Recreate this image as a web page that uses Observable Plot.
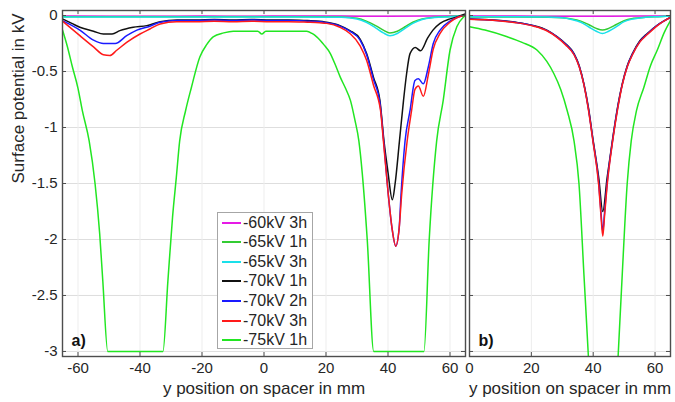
<!DOCTYPE html>
<html><head><meta charset="utf-8">
<script src="https://cdn.jsdelivr.net/npm/d3@7"></script>
<script src="https://cdn.jsdelivr.net/npm/@observablehq/plot@0.6"></script>
<style>
body{margin:0;background:#fff;font-family:"Liberation Sans",Arial,sans-serif;}
#wrap{position:relative;width:675px;height:402px;overflow:hidden;background:#fff;}
#wrap svg{position:absolute;left:0;top:0;}
#legend{position:absolute;left:217px;top:212px;width:96px;height:137px;border:1px solid #a6a6a6;background:#fff;box-sizing:border-box;z-index:5;}
#legend .row{position:absolute;left:0;height:20px;width:94px;}
#legend .ln{position:absolute;left:4px;top:9px;width:19px;height:2px;}
#legend .tx{position:absolute;left:25px;top:0;line-height:20px;font-size:16px;color:#262626;white-space:nowrap;}
</style></head>
<body><div id="wrap"><div id="legend"></div></div>
<script>
// ---- series names & colours ----
const seriesNames = ["-60kV 3h","-65kV 1h","-65kV 3h","-70kV 1h","-70kV 2h","-70kV 3h","-75kV 1h"];
const seriesColors = ["#e61ae6","#33cc33","#1ae0ea","#111111","#1a1aff","#ff1a1a","#22e622"];

// ---- tick values ----
const yTicks = [0,-0.5,-1,-1.5,-2,-2.5,-3];
const xTicksA = [-60,-40,-20,0,20,40,60];
const xTicksB = [0,20,40,60];
const panelLabels = ["a)","b)"];
const xTitle = "y position on spacer in mm";
const yTitle = "Surface potential in kV";

// ---- panel a data ----
const a_m60_3h_x = [-65,-50,-35,-20,-5,10,25,40,55,65];
const a_m60_3h_v = [-0.004,-0.006,-0.006,-0.005,-0.006,-0.004,-0.005,-0.006,-0.005,-0.003];
const a_m65_x = [-65,-40,-15,10,25,30,33,36,38.5,40.6,43,45.5,48,51,55,60,65];
const a_m65_1h_v = [-0.01,-0.01,-0.01,-0.01,-0.012,-0.025,-0.05,-0.09,-0.13,-0.155,-0.14,-0.1,-0.06,-0.03,-0.015,-0.008,0];
const a_m65_3h_v = [-0.013,-0.013,-0.013,-0.013,-0.016,-0.03,-0.06,-0.11,-0.155,-0.18,-0.16,-0.115,-0.07,-0.035,-0.018,-0.01,0];
const a_m70_1h_x = [-65,-62,-59.4,-55,-51.8,-49,-46.5,-42.2,-37.8,-33.5,-28,-22,-16,-10,-4,2,8,14,18,20.2,24.5,27.7,31,33.1,35.3,37.4,38.7,40,41.4,42.3,43.7,45,46,47.1,48.8,50.5,52.8,54.5,56.8,60,62.5,65];
const a_m70_1h_v = [-0.03,-0.07,-0.105,-0.14,-0.165,-0.165,-0.135,-0.105,-0.09,-0.055,-0.04,-0.04,-0.035,-0.04,-0.035,-0.04,-0.04,-0.045,-0.05,-0.06,-0.09,-0.134,-0.21,-0.34,-0.55,-0.76,-1.12,-1.4,-1.645,-1.5,-1.12,-0.76,-0.52,-0.34,-0.285,-0.315,-0.2,-0.13,-0.07,-0.03,-0.01,0.015];
const a_m70_2h_x = [-65,-59.4,-55,-51.8,-48,-44.3,-41,-36.8,-33.5,-28,-22,-16,-10,-4,2,8,14,18,20.2,24.5,27.7,31,33.1,35.3,37.4,38.6,40.1,41.3,42.5,43.6,44.2,45.5,47.1,48.7,49.8,51.4,53,54.6,56.8,60,62.5,65];
const a_m70_2h_v = [-0.045,-0.13,-0.22,-0.25,-0.25,-0.18,-0.13,-0.095,-0.06,-0.045,-0.045,-0.04,-0.045,-0.04,-0.045,-0.045,-0.05,-0.055,-0.065,-0.095,-0.14,-0.22,-0.35,-0.57,-0.78,-1.12,-1.6,-1.9,-2.06,-1.9,-1.6,-1.12,-0.85,-0.58,-0.565,-0.61,-0.46,-0.25,-0.13,-0.05,-0.015,0];
const a_m70_3h_x = [-65,-59.4,-55,-51.8,-49.7,-47.5,-44.3,-40,-36.8,-33.5,-28.2,-22,-16,-10,-4,2,8,14,18,20.2,24.5,27.7,31,33.1,35.3,37.6,38.5,40.1,41.3,42.5,43.6,44.4,46.2,47.6,48.7,49.8,51.4,53,54.6,56.8,60,62.5,65];
const a_m70_3h_v = [-0.05,-0.18,-0.28,-0.35,-0.357,-0.31,-0.24,-0.165,-0.12,-0.075,-0.055,-0.055,-0.05,-0.055,-0.05,-0.055,-0.055,-0.06,-0.065,-0.07,-0.105,-0.16,-0.27,-0.4,-0.62,-0.85,-1.116,-1.6,-1.9,-2.06,-1.9,-1.6,-1.116,-0.85,-0.66,-0.63,-0.72,-0.53,-0.3,-0.16,-0.06,-0.015,0];
const a_m75_1h_x = [-65,-63.5,-61.8,-60,-58.6,-56.4,-54.5,-53,-52,-50.4,-32.6,-31,-29.5,-28.3,-27.2,-25.3,-23.4,-20.7,-18.5,-16.4,-13,-9.9,-5,-2,-0.7,0.6,5,10,13.8,15.5,17,19.3,21.4,23,24.6,26.3,27.9,29.3,30.6,31.7,33.3,35.4,51.6,53.3,55.7,57.8,60,62.2,64.3,65];
const a_m75_1h_v = [-0.13,-0.27,-0.46,-0.65,-0.85,-1.12,-1.5,-1.95,-2.37,-3,-3,-2.37,-1.8,-1.45,-1.12,-0.85,-0.64,-0.37,-0.26,-0.19,-0.155,-0.14,-0.14,-0.14,-0.165,-0.14,-0.14,-0.14,-0.14,-0.16,-0.19,-0.26,-0.34,-0.44,-0.55,-0.65,-0.76,-0.93,-1.12,-1.41,-2,-3,-3,-2,-1.12,-0.76,-0.31,-0.1,-0.015,0];

// ---- panel b data ----
const b_m60_3h_x = [0,15,30,45,65];
const b_m60_3h_v = [-0.005,-0.005,-0.006,-0.006,-0.004];
const b_m65_x = [0,15,25,30,33,36,38.5,41,43,45,47.5,50,53,57,61,65];
const b_m65_1h_v = [-0.012,-0.012,-0.015,-0.02,-0.03,-0.05,-0.08,-0.115,-0.13,-0.115,-0.08,-0.045,-0.025,-0.015,-0.01,-0.005];
const b_m65_3h_v = [-0.01,-0.01,-0.013,-0.02,-0.035,-0.06,-0.1,-0.14,-0.16,-0.14,-0.1,-0.055,-0.03,-0.016,-0.01,-0.005];
const b_m70_1h_x = [0,5,10,15,20.8,25,28.4,31,33.8,35.5,37,38.5,39.9,41.8,43.1,44.5,46.3,48,49.4,51,52.7,55,57.5,61,65];
const b_m70_1h_v = [-0.03,-0.035,-0.045,-0.06,-0.09,-0.13,-0.19,-0.25,-0.34,-0.45,-0.61,-0.83,-1.1,-1.45,-1.75,-1.45,-1.1,-0.8,-0.61,-0.45,-0.34,-0.23,-0.16,-0.08,-0.015];
const b_m70_23_x = [0,5,10,15,20.8,25,28.4,31,33.8,35.5,37,38.5,39.9,41.8,42.5,43.1,43.7,44.5,46.3,48,49.4,51,52.7,55,57.5,61,65];
const b_m70_2h_v = [-0.032,-0.037,-0.047,-0.062,-0.092,-0.133,-0.193,-0.255,-0.345,-0.455,-0.615,-0.84,-1.11,-1.5,-1.75,-1.93,-1.75,-1.5,-1.11,-0.81,-0.615,-0.455,-0.345,-0.235,-0.165,-0.082,-0.016];
const b_m70_3h_v = [-0.033,-0.038,-0.048,-0.064,-0.095,-0.136,-0.197,-0.26,-0.35,-0.46,-0.62,-0.85,-1.12,-1.52,-1.78,-1.97,-1.78,-1.52,-1.12,-0.82,-0.62,-0.46,-0.35,-0.24,-0.17,-0.085,-0.017];
const b_m75_1h_x = [0,5,12.2,17,21.9,25,27.3,29.5,31.6,33.8,35.4,37,38.4,40,43.2,46.5,48.1,49.4,51,52.3,54,56.4,58.5,60.7,63,65];
const b_m75_1h_v = [-0.1,-0.13,-0.19,-0.24,-0.31,-0.41,-0.52,-0.66,-0.85,-1.12,-1.5,-2.31,-3.02,-3.9,-4.5,-3.9,-3.02,-2.31,-1.5,-1.12,-0.85,-0.64,-0.45,-0.31,-0.15,-0.045];

function rows(name, xs, vs){ return xs.map((x,i)=>({series:name, x, v:vs[i]})); }
const dataA = [
  ...rows(seriesNames[0], a_m60_3h_x, a_m60_3h_v),
  ...rows(seriesNames[1], a_m65_x, a_m65_1h_v),
  ...rows(seriesNames[2], a_m65_x, a_m65_3h_v),
  ...rows(seriesNames[3], a_m70_1h_x, a_m70_1h_v),
  ...rows(seriesNames[4], a_m70_2h_x, a_m70_2h_v),
  ...rows(seriesNames[5], a_m70_3h_x, a_m70_3h_v),
  ...rows(seriesNames[6], a_m75_1h_x, a_m75_1h_v)
];
const dataB = [
  ...rows(seriesNames[0], b_m60_3h_x, b_m60_3h_v),
  ...rows(seriesNames[1], b_m65_x, b_m65_1h_v),
  ...rows(seriesNames[2], b_m65_x, b_m65_3h_v),
  ...rows(seriesNames[3], b_m70_1h_x, b_m70_1h_v),
  ...rows(seriesNames[4], b_m70_23_x, b_m70_2h_v),
  ...rows(seriesNames[5], b_m70_23_x, b_m70_3h_v),
  ...rows(seriesNames[6], b_m75_1h_x, b_m75_1h_v)
];

const FONT = '"Liberation Sans", Arial, sans-serif';
const W = 675, H = 402, MT = 10, MB = 46;
const PH = H - MT - MB;
const frameCol = "#4d4d4d";

function panel(data, xDomain, xTicks, ml, mr, showY, label){
  const pw = W - ml - mr;
  const marks = [
    Plot.ruleY(yTicks, {y: d=>d, stroke:"#dedede", strokeWidth:1}),
    Plot.ruleX(xTicks, {x: d=>d, stroke:"#ededed", strokeWidth:1}),
  ];
  seriesNames.forEach((s,i)=>{
    marks.push(Plot.line(data.filter(d=>d.series===s), {x:"x", y:"v", stroke: seriesColors[i], strokeWidth:1.5, curve:"monotone-x", clip:true}));
  });
  marks.push(
    Plot.tickY(yTicks, {y:d=>d, insetRight: pw-4, stroke:frameCol}),
    Plot.tickY(yTicks, {y:d=>d, insetLeft: pw-4, stroke:frameCol}),
    Plot.tickX(xTicks, {x:d=>d, insetTop: PH-4, stroke:frameCol}),
    Plot.tickX(xTicks, {x:d=>d, insetBottom: PH-4, stroke:frameCol}),
    Plot.frame({stroke:frameCol, strokeWidth:1.4}),
    Plot.text([label], {frameAnchor:"bottom-left", dx:9, dy:-16, textAnchor:"start", lineAnchor:"middle", fontWeight:"bold", fontSize:16, fill:"#111"}),
    Plot.text([xTitle], {frameAnchor:"bottom", dy:32, lineAnchor:"middle", fontSize:17, fill:"#262626"})
  );
  if (showY) marks.push(Plot.text([yTitle], {frameAnchor:"left", dx:-44, rotate:-90, fontSize:17, fill:"#262626"}));
  return Plot.plot({
    width: W, height: H, marginLeft: ml, marginRight: mr, marginTop: MT, marginBottom: MB,
    style: {background:"transparent", fontFamily: FONT, fontSize:"15px", color:"#262626", overflow:"visible"},
    x: {domain: xDomain, ticks: xTicks, tickFormat: d=>String(d), tickSize:0, tickPadding:6, label:null},
    y: showY ? {domain:[-3.045,0.045], ticks: yTicks, tickFormat: d=>String(d), tickSize:0, tickPadding:5, label:null}
             : {domain:[-3.045,0.045], axis:null},
    marks
  });
}

const wrap = document.getElementById("wrap");
wrap.appendChild(panel(dataA, [-65,65], xTicksA, 62, 210, true, panelLabels[0]));
wrap.appendChild(panel(dataB, [0,65], xTicksB, 469, 5, false, panelLabels[1]));

// legend
const leg = document.getElementById("legend");
wrap.appendChild(leg);
seriesNames.forEach((s,i)=>{
  const row = document.createElement("div");
  row.className = "row";
  row.style.top = (-0.5 + 19.65*i) + "px";
  const ln = document.createElement("div"); ln.className="ln"; ln.style.background = seriesColors[i];
  const tx = document.createElement("div"); tx.className="tx"; tx.textContent = s;
  row.appendChild(ln); row.appendChild(tx); leg.appendChild(row);
});
</script></body></html>
